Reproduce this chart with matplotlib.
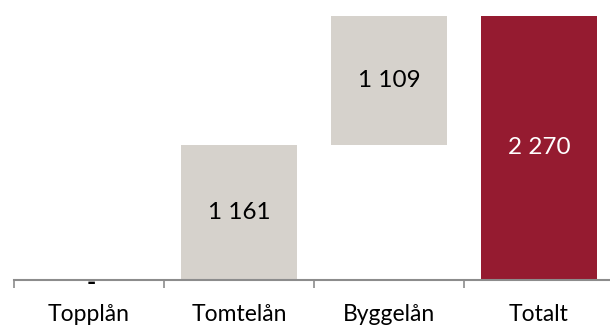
import matplotlib.pyplot as plt

categories = ["Topplån", "Tomtelån", "Byggelån", "Totalt"]
values = [0, 1161, 1109, 2270]
is_total = [False, False, False, True]

grey = "#d6d2cc"
red = "#951b30"
axis_grey = "#8c8c8c"

plt.rcParams["font.family"] = ["Lato", "DejaVu Sans"]


def fmt(v):
    if v == 0:
        return "-"
    return f"{v:,}".replace(",", " ")


# stacked offsets for the waterfall steps
bases = []
running = 0
for v, tot in zip(values, is_total):
    if tot:
        bases.append(0)
    else:
        bases.append(running)
        running += v

fig = plt.figure(figsize=(6.10, 3.26), dpi=100)
ax = fig.add_axes([14 / 610, 46 / 326, 600 / 610, 264 / 326])

x = list(range(len(categories)))
colors = [red if t else grey for t in is_total]
ax.bar(x, values, bottom=bases, width=0.77, color=colors, linewidth=0)

for xi, v, b, tot in zip(x, values, bases, is_total):
    if v == 0:
        # zero step: just a dash sitting on the axis
        ax.annotate(fmt(v), (xi, b), xytext=(1.5, -1.8),
                    textcoords="offset points", ha="center", va="center",
                    fontsize=18, fontweight="bold", color="black", zorder=5)
    else:
        ax.text(xi, b + v / 2, fmt(v), ha="center", va="center",
                fontsize=17.5, color="white" if tot else "black")

ax.set_xlim(-0.5, len(categories) - 0.5)
ax.set_ylim(0, max(values))

for s in ["top", "right", "left"]:
    ax.spines[s].set_visible(False)
ax.spines["bottom"].set_color(axis_grey)
ax.spines["bottom"].set_linewidth(1.5)
ax.set_yticks([])

# boundary ticks between categories, labels on the minor ticks
ax.set_xticks([i - 0.5 for i in range(len(categories) + 1)])
ax.set_xticklabels([])
ax.tick_params(axis="x", which="major", direction="out", length=6,
               width=1.2, color=axis_grey)
ax.set_xticks(x, minor=True)
ax.set_xticklabels(categories, minor=True, fontsize=16.5)
ax.tick_params(axis="x", which="minor", length=0, pad=17.5)

fig.savefig("out.png", dpi=100)
